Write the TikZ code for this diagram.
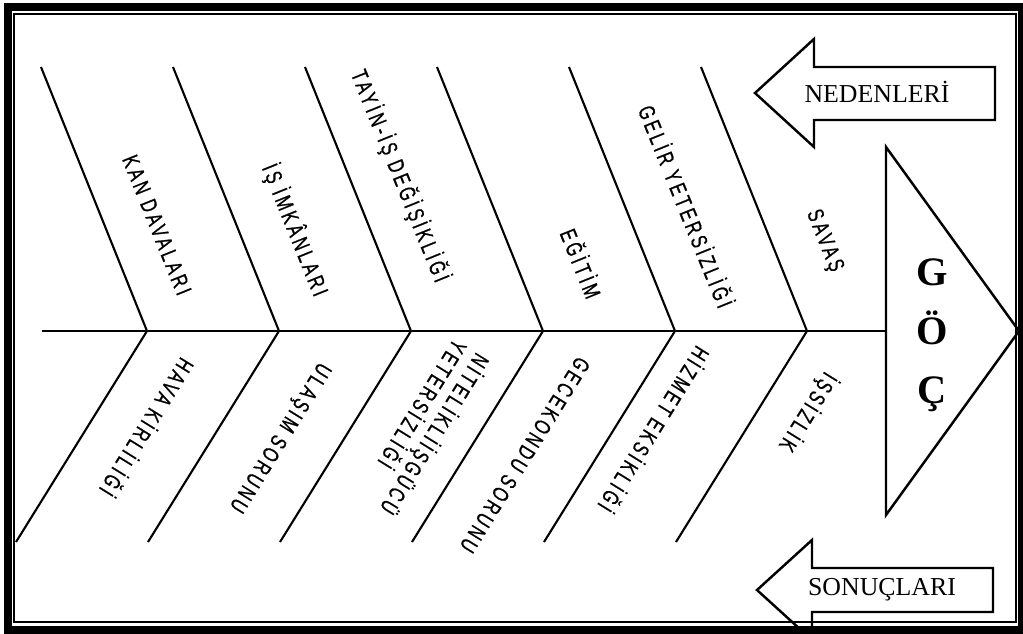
\documentclass[tikz,border=0pt]{standalone}
\usepackage{fontspec}
\setmainfont{Liberation Serif}
\newfontfamily\bonefont[FakeStretch=0.7,FakeBold=0.8,LetterSpace=15]{Liberation Sans}
\usetikzlibrary{positioning}

\begin{document}
\begin{tikzpicture}[x=0.02cm, y=-0.02cm]
    % Define styles
    \tikzstyle{bone} = [line width=1.2pt, black]
    \tikzstyle{cause} = [font=\bonefont\fontsize{13}{15}\selectfont, rotate=-68, inner sep=0pt]
    \tikzstyle{effect} = [font=\bonefont\fontsize{13}{15}\selectfont, rotate=-121.8, inner sep=0pt, align=left]
    \tikzstyle{banner} = [font=\fontsize{14.7}{16}\selectfont, inner sep=0pt]
    \tikzstyle{outline} = [line width=1.4pt, line join=miter]

    \useasboundingbox (0,0) rectangle (1023,633);

    % Frame
    \draw[line width=0.16cm] (8,6.5) rectangle (1022,630);
    \draw[line width=0.6pt] (14,14) rectangle (1016,622);

    % Head: the triangle
    \coordinate (htop) at (886,147);
    \coordinate (hbot) at (886,515);
    \coordinate (tip) at (1019,331);
    \coordinate (mouth) at (886,331);
    \draw[outline] (htop) -- (tip) -- (hbot) -- cycle;
    \node[font=\bfseries\fontsize{23}{33.5}\selectfont, align=center, inner sep=0pt] (goc) at (932,335) {G\\Ö\\Ç};

    % Spine
    \coordinate (tail) at (42,331);
    \draw[bone] (tail) -- (mouth);

    % Bones
    \foreach \i in {0,...,5} {
        \coordinate (s\i) at ({147+132*\i},331);
        \coordinate (t\i) at ({41+132*\i},67);
        \coordinate (b\i) at ({16+132*\i},542);
        \draw[bone] (t\i) -- (s\i) -- (b\i);
    }

    % Causes (upper bones)
    \node[cause] (kan) at (157,225) {KAN DAVALARI};
    \node[cause] (is) at (295,230) {İŞ İMKÂNLARI};
    \node[cause] (tayin) at (400,176) {TAYİN-İŞ DEĞİŞİKLİĞİ};
    \node[cause] (egitim) at (582,263) {EĞİTİM};
    \node[cause] (gelir) at (687,206) {GELİR YETERSİZLİĞİ};
    \node[cause] (savas) at (824,241) {SAVAŞ};

    % Effects (lower bones)
    \node[effect] (hava) at (148,428) {HAVA KİRLİLİĞİ};
    \node[effect] (ulasim) at (279,437) {ULAŞIM SORUNU};
    \node[effect] (nitelik) at (425,428) {NİTELİKLİİŞGÜCÜ\\YETERSİZLİĞİ};
    \node[effect] (gecekondu) at (525,455) {GECEKONDU SORUNU};
    \node[effect] (hizmet) at (655,430) {HİZMET EKSİKLİĞİ};
    \node[effect] (issizlik) at (808,412) {İŞSİZLİK};

    % Arrows: causes and results
    \draw[outline] (995,67) -- (814,67) -- (814,39) -- (755,93) -- (814,147) -- (814,120) -- (995,120) -- cycle;
    \node[banner] (nedenleri) at (877,92) {NEDENLERİ};
    \draw[outline] (993,568) -- (812,568) -- (812,540) -- (757,590) -- (812,640) -- (812,612) -- (993,612) -- cycle;
    \node[banner] (sonuclari) at (882,590) {SONUÇLARI};
\end{tikzpicture}
\end{document}
